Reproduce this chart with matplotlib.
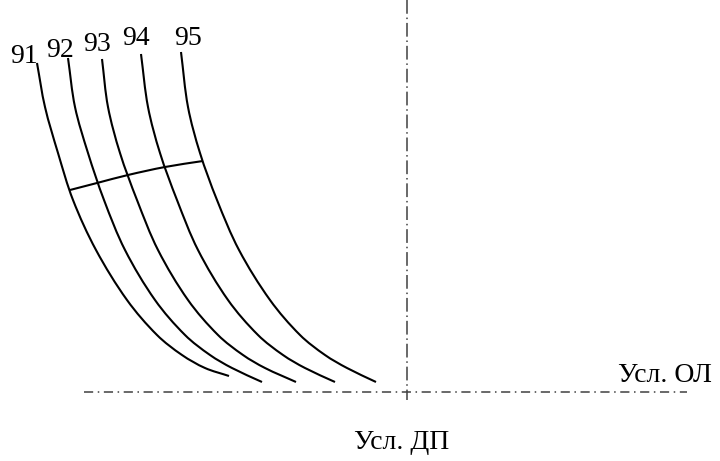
import numpy as np
import matplotlib.pyplot as plt
from matplotlib.path import Path
from matplotlib.patches import PathPatch

# Octane curves (x, y, origin at the axis crossing)
labels = ["91", "92", "93", "94", "95"]
curve_x = [
    [-370, -362, -349, -334, -311, -280, -250, -225, -202, -178],
    [-339, -332, -319, -303, -282, -252, -222, -197, -175, -145],
    [-305, -299, -287, -270, -249, -219, -189, -164, -142, -111],
    [-266, -259, -247, -230, -209, -179, -149, -124, -102, -72],
    [-226, -219, -207, -190, -168, -137, -107, -82, -60, -31],
]
curve_y = [
    [329, 285, 239, 192, 142, 92, 57, 37, 24, 16],
    [334, 285, 239, 192, 142, 92, 57, 37, 24, 10],
    [333, 285, 239, 192, 142, 92, 57, 37, 24, 10],
    [338, 285, 239, 192, 142, 92, 57, 37, 24, 10],
    [340, 285, 239, 192, 142, 92, 57, 37, 24, 10],
]

# line crossing the curves
cross_x = [-337, -310, -279, -242, -204]
cross_y = [202, 209, 217, 225, 231]

# label positions (centre, baseline)
label_x = [-383, -347, -310, -271, -219]
label_y = [329, 335, 341, 347, 347]


def smooth_path(xs, ys):
    # chord-length Catmull-Rom through the read points, drawn by Path as Beziers
    p = np.column_stack([xs, ys]).astype(float)
    n = len(p)
    t = np.concatenate([[0], np.cumsum(np.hypot(*np.diff(p, axis=0).T))])
    m = np.zeros_like(p)
    for i in range(n):
        a, b = max(i - 1, 0), min(i + 1, n - 1)
        m[i] = (p[b] - p[a]) / (t[b] - t[a])
    verts = [tuple(p[0])]
    codes = [Path.MOVETO]
    for i in range(n - 1):
        h = (t[i + 1] - t[i]) / 3
        verts += [tuple(p[i] + m[i] * h), tuple(p[i + 1] - m[i + 1] * h), tuple(p[i + 1])]
        codes += [Path.CURVE4] * 3
    return Path(verts, codes)


plt.rcParams['font.family'] = ['Liberation Serif', 'DejaVu Serif']

fig = plt.figure(figsize=(7.2, 4.61), dpi=100)
ax = fig.add_axes([0, 0, 1, 1])
ax.set_xlim(-407, 313)
ax.set_ylim(-69, 392)
ax.axis('off')

# dash-dot reference axes
ax.plot([-323, 280], [0, 0], color='#404040', lw=1.1, dashes=(6, 3, 1, 3))
ax.plot([0, 0], [392, -8], color='#404040', lw=1.1, dashes=(9, 2.5, 1, 2.5))

for xs, ys in zip(curve_x, curve_y):
    ax.add_patch(PathPatch(smooth_path(xs, ys), fill=False, edgecolor='black', lw=1.5))

ax.add_patch(PathPatch(smooth_path(cross_x, cross_y), fill=False, edgecolor='black', lw=1.5))

for lab, lx, ly in zip(labels, label_x, label_y):
    ax.text(lx, ly, lab, fontsize=20, ha='center', va='baseline')

ax.text(305, 10, "Усл. ОЛ", fontsize=20, ha='right', va='baseline')
ax.text(-5, -57, "Усл. ДП", fontsize=20, ha='center', va='baseline')

fig.savefig("out.png", dpi=100)
